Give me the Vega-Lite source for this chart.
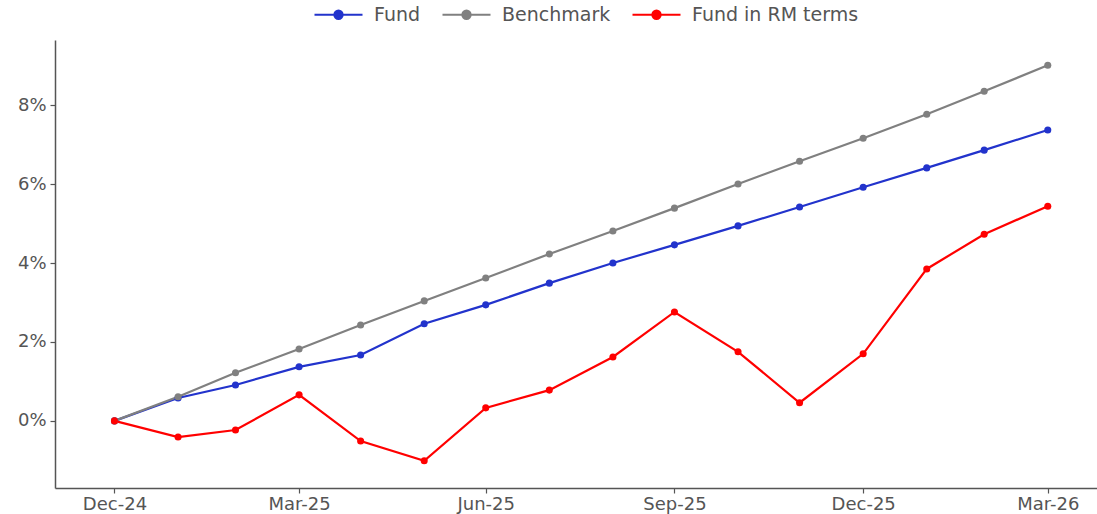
{
  "$schema": "https://vega.github.io/schema/vega-lite/v6.json",
  "width": 1042,
  "height": 448,
  "autosize": {"type": "none"},
  "padding": {"left": 55, "top": 40, "right": 0, "bottom": 26},
  "background": "white",
  "config": {
    "view": {"stroke": null},
    "font": "DejaVu Sans",
    "axis": {"labelFont": "DejaVu Sans", "labelFontSize": 18, "labelColor": "#555555", "domainColor": "#555555", "tickColor": "#555555", "domainWidth": 1.5, "tickWidth": 1.2, "tickSize": 5, "grid": false, "title": null}
  },
  "data": {
    "values": [
      {"date": "2024-12-31", "series": "Fund", "value": 0},
      {"date": "2025-01-31", "series": "Fund", "value": 0.58},
      {"date": "2025-02-28", "series": "Fund", "value": 0.91},
      {"date": "2025-03-31", "series": "Fund", "value": 1.37},
      {"date": "2025-04-30", "series": "Fund", "value": 1.67},
      {"date": "2025-05-31", "series": "Fund", "value": 2.46},
      {"date": "2025-06-30", "series": "Fund", "value": 2.94},
      {"date": "2025-07-31", "series": "Fund", "value": 3.49},
      {"date": "2025-08-31", "series": "Fund", "value": 4.0},
      {"date": "2025-09-30", "series": "Fund", "value": 4.46},
      {"date": "2025-10-31", "series": "Fund", "value": 4.94},
      {"date": "2025-11-30", "series": "Fund", "value": 5.42},
      {"date": "2025-12-31", "series": "Fund", "value": 5.92},
      {"date": "2026-01-31", "series": "Fund", "value": 6.41},
      {"date": "2026-02-28", "series": "Fund", "value": 6.86},
      {"date": "2026-03-31", "series": "Fund", "value": 7.37},
      {"date": "2024-12-31", "series": "Benchmark", "value": 0},
      {"date": "2025-01-31", "series": "Benchmark", "value": 0.61},
      {"date": "2025-02-28", "series": "Benchmark", "value": 1.22},
      {"date": "2025-03-31", "series": "Benchmark", "value": 1.82},
      {"date": "2025-04-30", "series": "Benchmark", "value": 2.43},
      {"date": "2025-05-31", "series": "Benchmark", "value": 3.04},
      {"date": "2025-06-30", "series": "Benchmark", "value": 3.62},
      {"date": "2025-07-31", "series": "Benchmark", "value": 4.23},
      {"date": "2025-08-31", "series": "Benchmark", "value": 4.81},
      {"date": "2025-09-30", "series": "Benchmark", "value": 5.39},
      {"date": "2025-10-31", "series": "Benchmark", "value": 6.0},
      {"date": "2025-11-30", "series": "Benchmark", "value": 6.58},
      {"date": "2025-12-31", "series": "Benchmark", "value": 7.16},
      {"date": "2026-01-31", "series": "Benchmark", "value": 7.77},
      {"date": "2026-02-28", "series": "Benchmark", "value": 8.35},
      {"date": "2026-03-31", "series": "Benchmark", "value": 9.01},
      {"date": "2024-12-31", "series": "Fund in RM terms", "value": 0},
      {"date": "2025-01-31", "series": "Fund in RM terms", "value": -0.41},
      {"date": "2025-02-28", "series": "Fund in RM terms", "value": -0.23},
      {"date": "2025-03-31", "series": "Fund in RM terms", "value": 0.66},
      {"date": "2025-04-30", "series": "Fund in RM terms", "value": -0.51},
      {"date": "2025-05-31", "series": "Fund in RM terms", "value": -1.01},
      {"date": "2025-06-30", "series": "Fund in RM terms", "value": 0.33},
      {"date": "2025-07-31", "series": "Fund in RM terms", "value": 0.78},
      {"date": "2025-08-31", "series": "Fund in RM terms", "value": 1.62},
      {"date": "2025-09-30", "series": "Fund in RM terms", "value": 2.76},
      {"date": "2025-10-31", "series": "Fund in RM terms", "value": 1.75},
      {"date": "2025-11-30", "series": "Fund in RM terms", "value": 0.46},
      {"date": "2025-12-31", "series": "Fund in RM terms", "value": 1.70},
      {"date": "2026-01-31", "series": "Fund in RM terms", "value": 3.85},
      {"date": "2026-02-28", "series": "Fund in RM terms", "value": 4.73},
      {"date": "2026-03-31", "series": "Fund in RM terms", "value": 5.44}
    ]
  },
  "encoding": {
    "x": {
      "field": "date", "type": "temporal",
      "scale": {"type": "utc", "domain": [{"utc": true, "year": 2024, "month": 12, "date": 2}, {"utc": true, "year": 2026, "month": 4, "date": 24}]},
      "axis": {
        "format": "%b-%y",
        "labelPadding": 2,
        "values": [
          {"utc": true, "year": 2024, "month": 12, "date": 31},
          {"utc": true, "year": 2025, "month": 3, "date": 31},
          {"utc": true, "year": 2025, "month": 6, "date": 30},
          {"utc": true, "year": 2025, "month": 9, "date": 30},
          {"utc": true, "year": 2025, "month": 12, "date": 31},
          {"utc": true, "year": 2026, "month": 3, "date": 31}
        ]
      }
    },
    "y": {
      "field": "value", "type": "quantitative",
      "scale": {"domain": [-1.7, 9.65], "nice": false, "zero": false},
      "axis": {"values": [0, 2, 4, 6, 8], "labelExpr": "format(datum.value, 'd') + '%'", "labelPadding": 4}
    },
    "color": {
      "field": "series", "type": "nominal",
      "scale": {"domain": ["Fund", "Benchmark", "Fund in RM terms"], "range": ["#2233cc", "#808080", "#ff0000"]},
      "legend": {
        "title": null,
        "orient": "none",
        "direction": "horizontal",
        "legendX": 258,
        "legendY": -51,
        "padding": 0,
        "symbolType": "M-1,0L1,0M-0.17,0A0.17,0.17,0,1,1,0.17,0A0.17,0.17,0,1,1,-0.17,0Z",
        "symbolSize": 2304,
        "symbolStrokeWidth": 2.2,
        "labelFont": "DejaVu Sans",
        "labelFontSize": 19,
        "labelLimit": 0,
        "labelColor": "#555555",
        "labelOffset": 10,
        "columnPadding": 17,
        "encode": {
          "symbols": {"update": {"fill": {"scale": "color", "field": "value"}, "stroke": {"scale": "color", "field": "value"}, "opacity": {"value": 1}}}
        }
      }
    }
  },
  "layer": [
    {"mark": {"type": "line", "strokeWidth": 2.2}},
    {"mark": {"type": "point", "filled": true, "size": 50, "opacity": 1}}
  ]
}
